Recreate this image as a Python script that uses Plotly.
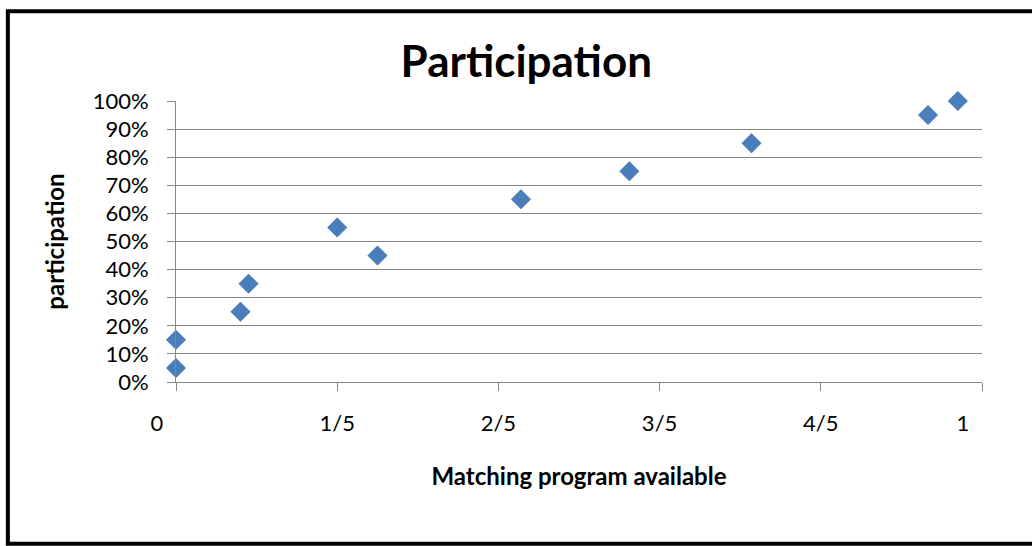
import plotly.graph_objects as go

matching = [0.0, 0.0, 0.08, 0.09, 0.2, 0.25, 0.428, 0.5625, 0.714, 0.933, 0.97]
participation = [0.05, 0.15, 0.25, 0.35, 0.55, 0.45, 0.65, 0.75, 0.85, 0.95, 1.00]

x_tickvals = [0, 0.2, 0.4, 0.6, 0.8, 1.0]
x_ticktext = ["0\u2007\u2007\u2007", "1/5", "2/5", "3/5", "4/5", "1\u2007\u2007\u2007"]
y_tickvals = [i / 10 for i in range(11)]
y_ticktext = [f"{i * 10}%" for i in range(11)]

FONT = "Lato, 'Open Sans', sans-serif"
GRID = "#878787"

fig = go.Figure()
fig.add_trace(go.Scatter(
    x=matching, y=participation, mode="markers",
    marker=dict(symbol="diamond", size=15, color="#4A7EBB",
                line=dict(width=0.5, color="#3F6FA8")),
    cliponaxis=False, showlegend=False,
))

L, R, T, B = 175.7, 50, 100.7, 164.3
pw = 1032 - L - R
ph = 546 - T - B

fig.update_layout(
    width=1032, height=546,
    margin=dict(l=L, r=R, t=T, b=B),
    paper_bgcolor="white", plot_bgcolor="white",
    font=dict(family=FONT, color="black"),
    title=dict(text="<b>Participation</b>", x=0.51, xanchor="center",
               y=1 - 62 / 546, yanchor="middle",
               font=dict(size=44, family=FONT, color="black")),
    xaxis=dict(
        range=[0, 1], tickvals=x_tickvals, ticktext=x_ticktext,
        showgrid=False, zeroline=False,
        showline=True, linecolor=GRID, linewidth=1,
        ticks="outside", ticklen=8, tickcolor=GRID, tickwidth=1,
        tickfont=dict(size=22, family=FONT, color="black"),
        ticklabelstandoff=14,
        title=dict(text="<b>Matching program available</b>",
                   font=dict(size=24, family=FONT, color="black"),
                   standoff=32),
    ),
    yaxis=dict(
        range=[0, 1], tickvals=y_tickvals, ticktext=y_ticktext,
        showgrid=True, gridcolor=GRID, gridwidth=1, zeroline=False,
        showline=True, linecolor=GRID, linewidth=1,
        ticks="outside", ticklen=8, tickcolor=GRID, tickwidth=1,
        tickfont=dict(size=22, family=FONT, color="black"),
        ticklabelstandoff=14,
        title=dict(text="<b>participation</b>",
                   font=dict(size=24, family=FONT, color="black"),
                   standoff=21),
    ),
)

# outer chart frame
x0 = (7.5 - L) / pw
x1 = (1045 - L) / pw
y0 = (546 - B - 543.5) / ph
y1 = (546 - B - 11) / ph
fig.add_shape(type="rect", xref="paper", yref="paper",
              x0=x0, x1=x1, y0=y0, y1=y1,
              line=dict(color="black", width=4), fillcolor="rgba(0,0,0,0)",
              layer="below")

fig.write_html("out.html", config={"displayModeBar": False},
               post_script="document.body.style.margin='0';document.body.style.overflow='hidden';")
